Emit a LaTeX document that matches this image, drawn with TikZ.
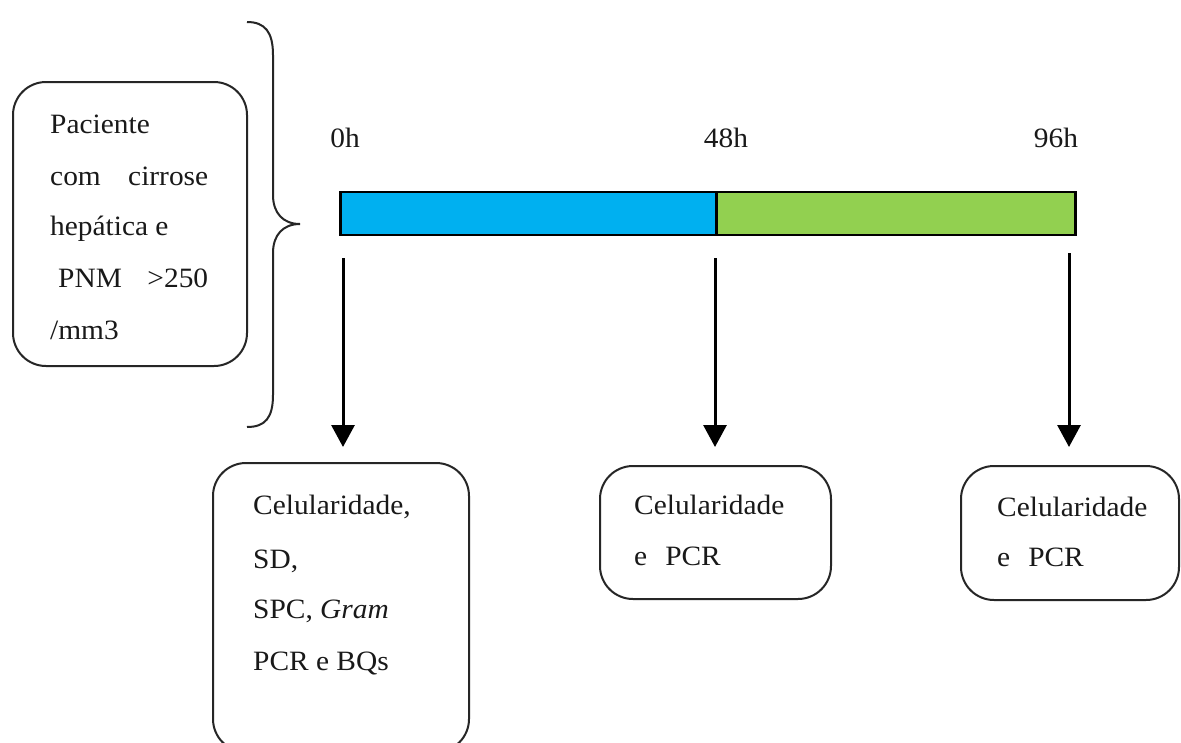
\documentclass[tikz,border=0pt]{standalone}
\usepackage{fontspec}
\setmainfont[FakeStretch=1.05]{Liberation Serif}
\usetikzlibrary{arrows.meta}
\definecolor{barblue}{HTML}{00B0F0}
\definecolor{bargreen}{HTML}{92D050}
\begin{document}
\begin{tikzpicture}[x=1pt,y=-1pt,
  rbox/.style={draw=black!85, line width=2pt, rounded corners=33pt, inner sep=0pt, fill=none},
  txt/.style={anchor=base west, inner sep=0pt, font=\fontsize{28}{51}\selectfont, text=black!90},
  lbl/.style={anchor=base, inner sep=0pt, font=\fontsize{28}{51}\selectfont, text=black!90},
  bar/.style={draw=black, line width=2.6pt, inner sep=0pt, minimum height=43pt},
  arr/.style={line width=3pt, -{Triangle[width=23pt,length=22pt]}}
]
\useasboundingbox (0,0) rectangle (1181,742);
\fill[white] (0,0) rectangle (1181,742);
\begin{scope}
\clip (0,0) rectangle (1181,742);
% boxes
\node[rbox, minimum width=234pt, minimum height=284pt] (b1) at (130,224) {};
\node[rbox, minimum width=256pt, minimum height=289pt] (b2) at (341,607.5) {};
\node[rbox, minimum width=231pt, minimum height=133pt] (b3) at (715.5,532.5) {};
\node[rbox, minimum width=218pt, minimum height=134pt] (b4) at (1070,533) {};
\end{scope}
% brace
\draw[line width=2pt, black!85] (247,22) .. controls (265,22) and (273,32) .. (273,55) -- (273,195)
  .. controls (273,213) and (283,224) .. (300,224)
  .. controls (283,224) and (273,235) .. (273,253) -- (273,395)
  .. controls (273,418) and (265,427) .. (247,427);
% box 1 text
\node[txt] (p1) at (50,133) {Paciente};
\node[txt] (p2) at (50,185) {\hbox to 158pt{com\hfill cirrose}};
\node[txt] (p3) at (50,235) {hepática e};
\node[txt] (p4) at (58,287) {\hbox to 150pt{PNM\hfill >250}};
\node[txt] (p5) at (50,339) {/mm3};
% timeline
\node[bar, fill=barblue, minimum width=376pt, anchor=west] (blue) at (339,213.5) {};
\node[bar, fill=bargreen, minimum width=359pt, anchor=west] (green) at (715,213.5) {};
\node[lbl] (h0) at (345,147) {0h};
\node[lbl] (h48) at (726,147) {48h};
\node[lbl] (h96) at (1056,147) {96h};
% arrows
\coordinate (s0) at (343,258);
\coordinate (s48) at (715,258);
\coordinate (s96) at (1069,253);
\draw[arr, shorten >=15pt] (s0) -- (s0 |- b2.north);
\draw[arr, shorten >=18pt] (s48) -- (s48 |- b3.north);
\draw[arr, shorten >=18pt] (s96) -- (s96 |- b4.north);
% box 2 text
\node[txt] (c1) at (253,514) {Celularidade,};
\node[txt] (c2) at (253,568) {SD,};
\node[txt] (c3) at (253,618) {SPC, \textit{Gram}};
\node[txt] (c4) at (253,670) {PCR e BQs};
% box 3 text
\node[txt] (d1) at (634,514) {Celularidade};
\node[txt] (d2) at (634,565) {e\hspace{18pt}PCR};
% box 4 text
\node[txt] (e1) at (997,516) {Celularidade};
\node[txt] (e2) at (997,566) {e\hspace{18pt}PCR};
\end{tikzpicture}
\end{document}
